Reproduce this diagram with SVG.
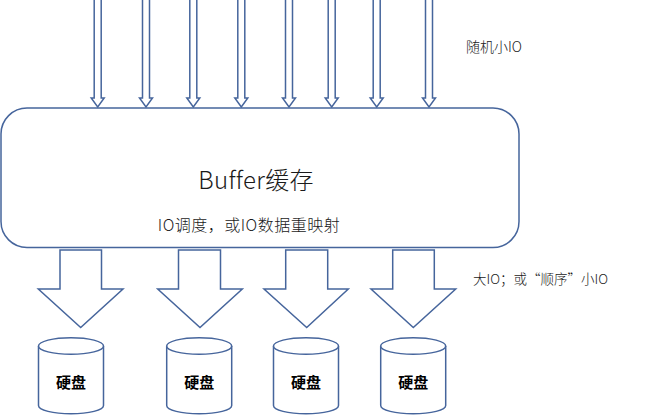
<svg xmlns="http://www.w3.org/2000/svg" width="645" height="416" viewBox="0 0 645 416">
<style>
.s{fill:#fff;stroke:#46659c;stroke-width:1.5}
.t{font-family:"Noto Sans CJK SC","Noto Sans",sans-serif;fill:#1a1a1a;font-weight:300}
.d{font-family:"Noto Sans CJK SC",sans-serif;font-weight:bold;font-size:15px;fill:#000;text-anchor:middle}
</style>
<rect width="645" height="416" fill="#fff"/>
<g id="connectors">
<path class="s" d="M94.2,-2 H101.2 V98 H104.2 L97.7,107 L91.2,98 H94.2 Z"/>
<path class="s" d="M142.5,-2 H149.5 V98 H152.5 L146,107 L139.5,98 H142.5 Z"/>
<path class="s" d="M189.8,-2 H196.8 V98 H199.8 L193.3,107 L186.8,98 H189.8 Z"/>
<path class="s" d="M237.8,-2 H244.8 V98 H247.8 L241.3,107 L234.8,98 H237.8 Z"/>
<path class="s" d="M285.5,-2 H292.5 V98 H295.5 L289,107 L282.5,98 H285.5 Z"/>
<path class="s" d="M328.2,-2 H335.2 V98 H338.2 L331.7,107 L325.2,98 H328.2 Z"/>
<path class="s" d="M373.2,-2 H380.2 V98 H383.2 L376.7,107 L370.2,98 H373.2 Z"/>
<path class="s" d="M425.5,-2 H432.5 V98 H435.5 L429,107 L422.5,98 H425.5 Z"/>
<path class="s" d="M60,250 H101.5 V289 H123 L80.7,327.5 L38.3,289 H60 Z"/>
<path class="s" d="M178.5,250 H220.5 V289 H242.3 L200,327.5 L157.7,289 H178.5 Z"/>
<path class="s" d="M285.7,250 H327.7 V289 H348.3 L306.7,327.5 L264,289 H285.7 Z"/>
<path class="s" d="M392.7,250 H434.3 V289 H455.7 L413.3,327.5 L371,289 H392.7 Z"/>
</g>
<g id="buffer">
<rect class="s" x="1" y="108" width="518" height="139.5" rx="26" ry="26"/>
<text class="t" x="256" y="189" font-size="24" letter-spacing="0.3" text-anchor="middle">Buffer缓存</text>
<text class="t" x="249" y="231" font-size="16" letter-spacing="0.5" text-anchor="middle">IO调度，或IO数据重映射</text>
</g>
<g id="label-random"><text class="t" x="466" y="52" font-size="14">随机小IO</text></g>
<g id="label-large"><text class="t" x="473" y="284" font-size="13.5" font-weight="400" fill="#1a1a1a">大IO；或“顺序”小IO</text></g>
<g id="disk1">
<path class="s" d="M38.5,346 V405.5 A32.5,8.3 0 0 0 103.5,405.5 V346"/>
<ellipse class="s" cx="71" cy="346" rx="32.5" ry="8.3"/>
<text class="d" x="71" y="388">硬盘</text>
</g>
<g id="disk2">
<path class="s" d="M166.7,346 V405.5 A32.5,8.3 0 0 0 231.7,405.5 V346"/>
<ellipse class="s" cx="199.2" cy="346" rx="32.5" ry="8.3"/>
<text class="d" x="199.2" y="388">硬盘</text>
</g>
<g id="disk3">
<path class="s" d="M273.5,346 V405.5 A32.5,8.3 0 0 0 338.5,405.5 V346"/>
<ellipse class="s" cx="306" cy="346" rx="32.5" ry="8.3"/>
<text class="d" x="306" y="388">硬盘</text>
</g>
<g id="disk4">
<path class="s" d="M380.7,346 V405.5 A32.5,8.3 0 0 0 445.7,405.5 V346"/>
<ellipse class="s" cx="413.2" cy="346" rx="32.5" ry="8.3"/>
<text class="d" x="413.2" y="388">硬盘</text>
</g>
</svg>
